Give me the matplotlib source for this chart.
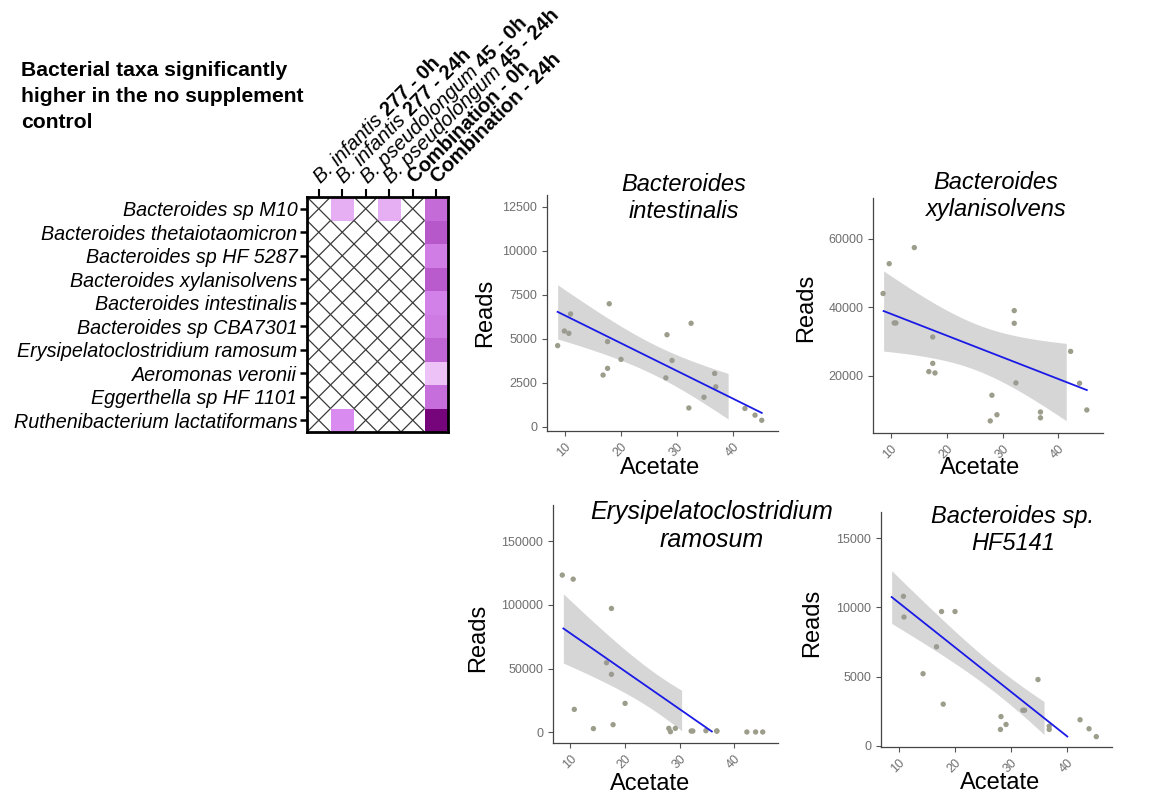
import numpy as np
import matplotlib
matplotlib.use("Agg")
import matplotlib.pyplot as plt
from matplotlib.colors import LinearSegmentedColormap
from matplotlib.font_manager import FontProperties
from matplotlib import transforms

plt.rcParams['font.family'] = ['Liberation Sans', 'DejaVu Sans']

W, H = 1155, 796

# ---------------- heatmap data ----------------
taxa = [
    "Bacteroides sp M10",
    "Bacteroides thetaiotaomicron",
    "Bacteroides sp HF 5287",
    "Bacteroides xylanisolvens",
    "Bacteroides intestinalis",
    "Bacteroides sp CBA7301",
    "Erysipelatoclostridium ramosum",
    "Aeromonas veronii",
    "Eggerthella sp HF 1101",
    "Ruthenibacterium lactatiformans",
]
strain_names = ["B. infantis", "B. infantis", "B. pseudolongum", "B. pseudolongum", "", ""]
condition_names = ["277 - 0h", "277 - 24h", "45 - 0h", "45 - 24h",
                   "Combination - 0h", "Combination - 24h"]
nan = np.nan
effect = np.array([
    [nan, 1.2, nan, 1.2, nan, 3.0],
    [nan, nan, nan, nan, nan, 3.6],
    [nan, nan, nan, nan, nan, 2.4],
    [nan, nan, nan, nan, nan, 3.5],
    [nan, nan, nan, nan, nan, 2.3],
    [nan, nan, nan, nan, nan, 2.5],
    [nan, nan, nan, nan, nan, 3.2],
    [nan, nan, nan, nan, nan, 0.8],
    [nan, nan, nan, nan, nan, 2.9],
    [nan, 2.0, nan, nan, nan, 6.0],
])

# ---------------- scatter data (acetate vs reads) ----------------
acetate_range = [8.7, 45.1]

intestinalis_acetate = np.array([8.7, 9.9, 10.7, 11.0, 17.9, 17.6, 17.6, 16.8, 20.0, 28.0,
                                 28.2, 29.1, 32.5, 32.1, 36.7, 36.9, 34.8, 42.1, 43.9, 45.1])
intestinalis_reads = np.array([4620, 5450, 5320, 6420, 7000, 4850, 3330, 2950, 3840, 2790,
                               5240, 3780, 5890, 1080, 3040, 2280, 1690, 1050, 670, 380])
intestinalis_fit = [7912, -157.7]        # intercept, slope
intestinalis_ci_left = 1540               # CI half-width at the low end of acetate

xylanisolvens_acetate = np.array([8.6, 9.7, 10.6, 10.9, 14.2, 17.5, 17.5, 16.8, 17.9, 28.1,
                                  27.8, 29.0, 32.1, 32.1, 32.4, 36.8, 36.8, 42.2, 43.8, 45.1])
xylanisolvens_reads = np.array([44000, 52700, 35400, 35400, 57400, 31300, 23600, 21200, 20800, 14300,
                                6800, 8600, 39000, 35300, 17900, 9400, 7700, 27100, 17800, 10000])
xylanisolvens_fit = [44400, -634]
xylanisolvens_ci_left = 11700

ramosum_acetate = np.array([8.5, 10.5, 10.7, 14.2, 17.5, 17.5, 16.6, 17.8, 20.0, 28.0,
                            28.3, 29.2, 32.1, 32.4, 34.8, 36.8, 36.8, 42.3, 43.9, 45.2])
ramosum_reads = np.array([123400, 120200, 18000, 2900, 97200, 45500, 54600, 6000, 22700, 3100,
                          500, 3100, 1000, 1000, 1300, 1000, 1000, 260, 260, 260])
ramosum_fit = [107400, -2975]
ramosum_ci_left = 27200

hf5141_acetate = np.array([10.8, 10.9, 14.3, 16.7, 17.6, 20.0, 17.9, 28.2, 28.1, 29.1,
                           32.1, 32.4, 34.8, 36.8, 36.8, 42.3, 43.9, 45.2])
hf5141_reads = np.array([10800, 9300, 5200, 7150, 9700, 9700, 3000, 2100, 1170, 1530,
                         2560, 2560, 4780, 1410, 1170, 1870, 1220, 650])
hf5141_fit = [13550, -322]
hf5141_ci_left = 1910

fig = plt.figure(figsize=(W / 100, H / 100), dpi=100)


def fx(px):
    return px / W


def fy(py):
    return 1 - py / H


def rect(left, top, right, bottom):
    return [fx(left), fy(bottom), (right - left) / W, (bottom - top) / H]


# ---------------- heatmap ----------------
cmap = LinearSegmentedColormap.from_list(
    "purples", [(0.0, "#F9E6FB"), (0.33, "#D98CF0"), (0.66, "#B04CC2"), (1.0, "#76047A")])
hax = fig.add_axes(rect(307, 197, 448, 432))
nrow, ncol = effect.shape
hax.pcolormesh(np.arange(ncol + 1), np.arange(nrow + 1), np.ma.masked_invalid(effect),
               cmap=cmap, vmin=0, vmax=6, shading="flat")
for i in range(nrow):
    for j in range(ncol):
        if np.isnan(effect[i, j]):
            hax.plot([j, j + 1], [i, i + 1], color="#3a3a3a", lw=0.9, solid_capstyle="butt")
            hax.plot([j, j + 1], [i + 1, i], color="#3a3a3a", lw=0.9, solid_capstyle="butt")
hax.set_xlim(0, ncol)
hax.set_ylim(nrow, 0)
for sp in hax.spines.values():
    sp.set_linewidth(2.0)
    sp.set_color("black")
hax.set_yticks(np.arange(nrow) + 0.5)
hax.set_yticklabels(taxa, fontsize=14.2, fontstyle="italic")
hax.tick_params(axis="y", length=5, width=1.8, pad=2, color="black")
hax.xaxis.tick_top()
hax.set_xticks(np.arange(ncol) + 0.5)
hax.set_xticklabels([])
hax.tick_params(axis="x", length=6, width=1.5, color="black")

renderer = fig.canvas.get_renderer()
lab_size = 14.5
fp_it = FontProperties(family="Liberation Sans", style="italic", size=lab_size)
fp_bf = FontProperties(family="Liberation Sans", weight="bold", size=lab_size)
ang = np.deg2rad(45)
for j in range(ncol):
    base = transforms.offset_copy(hax.transData, fig=fig, x=1.5, y=9, units="points")
    dist = 0.0
    if strain_names[j]:
        hax.text(j + 0.5, 0, strain_names[j], fontproperties=fp_it, rotation=45,
                 rotation_mode="anchor", ha="left", va="baseline", transform=base,
                 clip_on=False)
        w_px, _, _ = renderer.get_text_width_height_descent(strain_names[j], fp_it, ismath=False)
        dist = w_px * 72 / fig.dpi + 0.3 * lab_size
    tr = transforms.offset_copy(hax.transData, fig=fig, x=1.5 + dist * np.cos(ang),
                                y=9 + dist * np.sin(ang), units="points")
    hax.text(j + 0.5, 0, condition_names[j], fontproperties=fp_bf, rotation=45,
             rotation_mode="anchor", ha="left", va="baseline", transform=tr, clip_on=False)

fig.text(fx(21), fy(61), "Bacterial taxa significantly\nhigher in the no supplement\ncontrol",
         fontsize=15.2, fontweight="bold", ha="left", va="top", linespacing=1.45)

# ---------------- scatter panels ----------------
panels = [
    dict(title="Bacteroides\nintestinalis", x=intestinalis_acetate, y=intestinalis_reads,
         fit=intestinalis_fit, ci_left=intestinalis_ci_left, title_size=17,
         yticks=[0, 2500, 5000, 7500, 10000, 12500], ylim=(-230, 13180),
         box=(547, 195, 778, 431), title_xy=(684, 198), ylab_xy=(485, 313), xlab_xy=(660, 468)),
    dict(title="Bacteroides\nxylanisolvens", x=xylanisolvens_acetate, y=xylanisolvens_reads,
         fit=xylanisolvens_fit, ci_left=xylanisolvens_ci_left, title_size=17,
         yticks=[20000, 40000, 60000], ylim=(3270, 71880),
         box=(873, 198, 1103, 433), title_xy=(996, 196), ylab_xy=(806, 308), xlab_xy=(980, 468)),
    dict(title="Erysipelatoclostridium\nramosum", x=ramosum_acetate, y=ramosum_reads,
         fit=ramosum_fit, ci_left=ramosum_ci_left, title_size=18,
         yticks=[0, 50000, 100000, 150000], ylim=(-8390, 178400),
         box=(553, 505, 778, 743), title_xy=(712, 526), ylab_xy=(478, 638), xlab_xy=(650, 784)),
    dict(title="Bacteroides sp.\nHF5141", x=hf5141_acetate, y=hf5141_reads,
         fit=hf5141_fit, ci_left=hf5141_ci_left, title_size=17,
         yticks=[0, 5000, 10000, 15000], ylim=(-100, 16900),
         box=(881, 512, 1112, 747), title_xy=(1013, 530), ylab_xy=(812, 623), xlab_xy=(1000, 783)),
]

T_CRIT = 2.1

for p in panels:
    ax = fig.add_axes(rect(*p["box"]))
    x, y = p["x"], p["y"]
    ax.scatter(x, y, s=15, color="#9d9d8c", edgecolors="none", zorder=2)

    intercept, slope = p["fit"]
    xs = np.linspace(acetate_range[0], acetate_range[1], 80)
    yhat = intercept + slope * xs
    n = len(x)
    sxx = np.sum((x - x.mean()) ** 2)
    shape = np.sqrt(1 / n + (xs - x.mean()) ** 2 / sxx)
    resid_sd = p["ci_left"] / (T_CRIT * shape[0])
    half = T_CRIT * resid_sd * shape
    lo, hi = yhat - half, yhat + half
    keep = lo >= y.min()
    ax.fill_between(xs, lo, hi, where=keep, color="#999999", alpha=0.4, lw=0, zorder=3)
    ax.plot(xs, np.where(yhat >= y.min(), yhat, np.nan), color="#1a1ae6", lw=1.3, zorder=4)

    ax.set_xlim(6.8, 48)
    ax.set_ylim(*p["ylim"])
    ax.set_xticks([10, 20, 30, 40])
    ax.set_yticks(p["yticks"])
    ax.tick_params(axis="both", labelsize=9, labelcolor="#6e6e6e", color="#555555",
                   length=3.5, width=0.8)
    for lbl in ax.get_xticklabels():
        lbl.set_rotation(45)
        lbl.set_ha("right")
        lbl.set_rotation_mode("anchor")
    for side in ("top", "right"):
        ax.spines[side].set_visible(False)
    for side in ("left", "bottom"):
        ax.spines[side].set_color("#444444")
        ax.spines[side].set_linewidth(0.9)
    ax.patch.set_alpha(0)

    tx, ty = p["title_xy"]
    fig.text(fx(tx), fy(ty), p["title"], fontsize=p["title_size"], fontstyle="italic",
             ha="center", va="center", multialignment="center", linespacing=1.25)
    lx, ly = p["ylab_xy"]
    fig.text(fx(lx), fy(ly), "Reads", fontsize=17, rotation=90, ha="center", va="center")
    ax_x, ax_y = p["xlab_xy"]
    fig.text(fx(ax_x), fy(ax_y), "Acetate", fontsize=17, ha="center", va="center")

fig.savefig("out.png", dpi=100, facecolor="white")
